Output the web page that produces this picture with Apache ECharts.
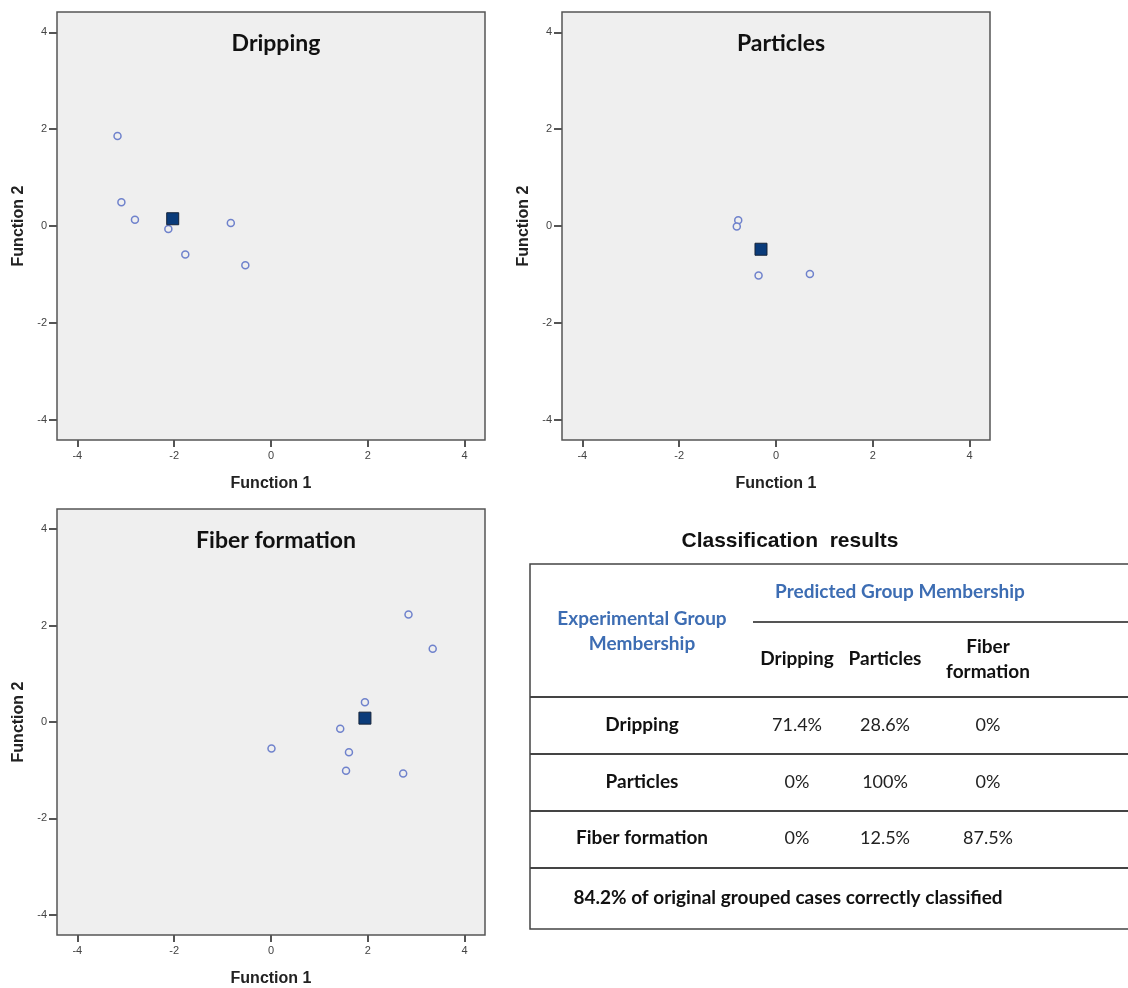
<!DOCTYPE html>
<html>
<head>
<meta charset="utf-8">
<script src="https://cdn.jsdelivr.net/npm/echarts@6/dist/echarts.min.js"></script>
<style>
html,body{margin:0;padding:0;background:#fff;}
#main{width:1128px;height:988px;}
</style>
</head>
<body>
<div id="main"></div>
<script>
// ---- data ----
const panelTitles = ['Dripping', 'Particles', 'Fiber formation'];
const drippingPoints = [[-3.17, 1.86], [-3.09, 0.49], [-2.81, 0.13], [-2.12, -0.06], [-1.77, -0.59], [-0.83, 0.06], [-0.53, -0.81]];
const drippingCentroid = [[-2.03, 0.15]];
const particlesPoints = [[-0.78, 0.12], [-0.81, -0.01], [-0.36, -1.02], [0.70, -0.99]];
const particlesCentroid = [[-0.31, -0.48]];
const fiberPoints = [[2.84, 2.23], [3.34, 1.52], [1.94, 0.41], [1.43, -0.14], [1.61, -0.63], [1.55, -1.01], [2.73, -1.07], [0.01, -0.55]];
const fiberCentroid = [[1.94, 0.08]];
const tickValues = [-4, -2, 0, 2, 4];
const xAxisName = 'Function 1';
const yAxisName = 'Function 2';

const tableTitle = 'Classification  results';
const predictedHeader = 'Predicted Group Membership';
const experimentalHeader = 'Experimental Group\nMembership';
const tableCols = ['Dripping', 'Particles', 'Fiber\nformation'];
const tableRows = ['Dripping', 'Particles', 'Fiber formation'];
const tableValues = [
  ['71.4%', '28.6%', '0%'],
  ['0%', '100%', '0%'],
  ['0%', '12.5%', '87.5%']
];
const overallText = '84.2% of original grouped cases correctly classified';

// ---- layout ----
const grids = [
  {left: 57, top: 12, width: 428, height: 428},
  {left: 562, top: 12, width: 428, height: 428},
  {left: 57, top: 509, width: 428, height: 429}
];
const lim = 4.42;
const pointSets = [drippingPoints, particlesPoints, fiberPoints];
const centroidSets = [drippingCentroid, particlesCentroid, fiberCentroid];

const titleFont = 'Lato, "Open Sans", sans-serif';
const armFont = '"Liberation Sans", Arial, sans-serif';

const gridOpts = grids.map(g => Object.assign({
  show: true, backgroundColor: '#efefef', borderColor: '#555', borderWidth: 1.5
}, g));

const xAxes = grids.map((g, i) => ({
  type: 'value', gridIndex: i, min: -lim, max: lim,
  name: xAxisName, nameLocation: 'middle', nameGap: 36,
  nameTextStyle: {fontFamily: armFont, fontWeight: 'bold', fontSize: 16, color: '#222'},
  axisLine: {show: false, onZero: false},
  axisTick: {show: true, length: 7, customValues: tickValues, lineStyle: {color: '#555', width: 2}},
  axisLabel: {show: true, customValues: tickValues, fontFamily: armFont, fontSize: 11, color: '#444', margin: 10},
  splitLine: {show: false}
}));
const yAxes = grids.map((g, i) => ({
  type: 'value', gridIndex: i, min: -lim, max: lim,
  name: yAxisName, nameLocation: 'middle', nameGap: 30,
  nameTextStyle: {fontFamily: armFont, fontWeight: 'bold', fontSize: 16, color: '#222'},
  axisLine: {show: false, onZero: false},
  axisTick: {show: true, length: 8, customValues: tickValues, lineStyle: {color: '#555', width: 2}},
  axisLabel: {show: true, customValues: tickValues, fontFamily: armFont, fontSize: 11, color: '#444', margin: 10},
  splitLine: {show: false}
}));

const series = [];
grids.forEach((g, i) => {
  series.push({
    type: 'scatter', xAxisIndex: i, yAxisIndex: i,
    data: pointSets[i], symbol: 'circle', symbolSize: 7,
    itemStyle: {color: '#efefef', borderColor: '#6f82cc', borderWidth: 1.5, opacity: 1},
    silent: true, z: 2
  });
  series.push({
    type: 'scatter', xAxisIndex: i, yAxisIndex: i,
    data: centroidSets[i], symbol: 'rect', symbolSize: 12,
    itemStyle: {color: '#0a3b7a', borderColor: '#16243a', borderWidth: 1, opacity: 1},
    silent: true, z: 3
  });
});

const titles = grids.map((g, i) => ({
  text: panelTitles[i],
  left: g.left + g.width / 2, top: g.top + 15, textAlign: 'center',
  textStyle: {fontFamily: titleFont, fontWeight: 'bold', fontSize: 23, color: '#111'}
}));

// ---- table (graphic) ----
const tb = {left: 530, top: 564, right: 1140, bottom: 929};
const hLines = [697, 754, 811, 868];
const colX = [642, 797, 885, 988];
const rowY = [725, 782, 838];
const cellFont = 19;
const valueFont = 18;
const graphics = [];
graphics.push({type: 'rect', shape: {x: tb.left, y: tb.top, width: tb.right - tb.left, height: tb.bottom - tb.top},
  style: {fill: '#fff', stroke: '#444', lineWidth: 1.5}, z: 1});
hLines.forEach(y => graphics.push({type: 'line', shape: {x1: tb.left, y1: y, x2: tb.right, y2: y},
  style: {stroke: '#444', lineWidth: 2}, z: 2}));
graphics.push({type: 'line', shape: {x1: 753, y1: 622, x2: tb.right, y2: 622}, style: {stroke: '#555', lineWidth: 2}, z: 2});
graphics.push({type: 'text', x: 790, y: 541, style: {text: tableTitle, font: 'bold 21px ' + armFont, fill: '#111', align: 'center', verticalAlign: 'middle'}, z: 3});
graphics.push({type: 'text', x: 900, y: 592, style: {text: predictedHeader, font: 'bold ' + cellFont + 'px ' + titleFont, fill: '#3d6db3', align: 'center', verticalAlign: 'middle'}, z: 3});
graphics.push({type: 'text', x: colX[0], y: 631, style: {text: experimentalHeader, font: 'bold ' + cellFont + 'px ' + titleFont, fill: '#3d6db3', align: 'center', verticalAlign: 'middle', lineHeight: 25}, z: 3});
tableCols.forEach((c, j) => graphics.push({type: 'text', x: colX[j + 1], y: 659,
  style: {text: c, font: 'bold ' + cellFont + 'px ' + titleFont, fill: '#111', align: 'center', verticalAlign: 'middle', lineHeight: 25}, z: 3}));
tableRows.forEach((r, i) => {
  graphics.push({type: 'text', x: colX[0], y: rowY[i], style: {text: r, font: 'bold ' + cellFont + 'px ' + titleFont, fill: '#111', align: 'center', verticalAlign: 'middle'}, z: 3});
  tableValues[i].forEach((v, j) => graphics.push({type: 'text', x: colX[j + 1], y: rowY[i],
    style: {text: v, font: valueFont + 'px ' + titleFont, fill: '#222', align: 'center', verticalAlign: 'middle'}, z: 3}));
});
graphics.push({type: 'text', x: 788, y: 898, style: {text: overallText, font: 'bold ' + cellFont + 'px ' + titleFont, fill: '#111', align: 'center', verticalAlign: 'middle'}, z: 3});

const chart = echarts.init(document.getElementById('main'), null, {renderer: 'canvas'});
chart.setOption({
  backgroundColor: '#fff',
  animation: false,
  title: titles,
  grid: gridOpts,
  xAxis: xAxes,
  yAxis: yAxes,
  series: series,
  graphic: graphics
});
</script>
</body>
</html>
